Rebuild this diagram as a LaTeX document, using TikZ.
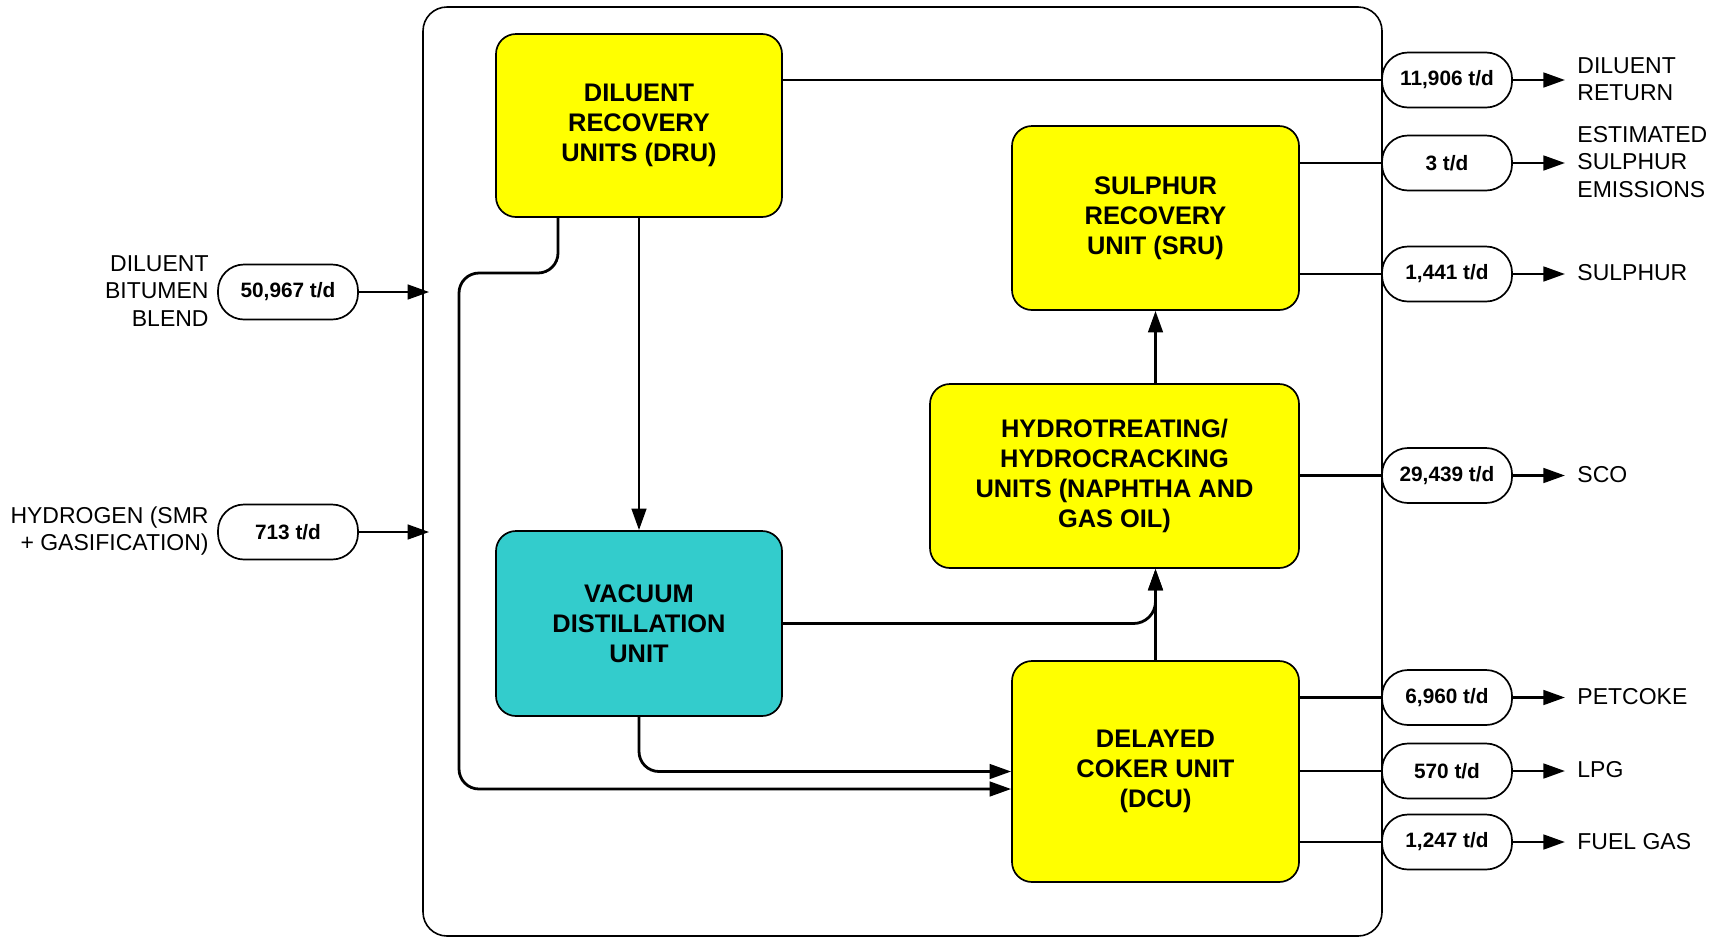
\documentclass[tikz,border=0pt]{standalone}
\usepackage{fontspec}
\setmainfont{Liberation Sans}
\usetikzlibrary{arrows.meta}
\definecolor{unityellow}{RGB}{255,255,0}
\definecolor{vacteal}{RGB}{51,204,204}
\begin{document}
\begin{tikzpicture}[x=0.5pt,y=-0.5pt,
  unit/.style={draw, line width=0.85pt, rounded corners=10pt, fill=unityellow,
    align=center, inner sep=2pt, font=\bfseries\fontsize{12.7}{15}\selectfont},
  pill/.style={draw, line width=0.85pt, rounded corners=13pt, fill=white,
    minimum width=65pt, minimum height=27.5pt, inner sep=0pt,
    font=\bfseries\fontsize{10.4}{12}\selectfont},
  lblL/.style={anchor=east, inner sep=0pt, align=right, font=\fontsize{11.5}{13.75}\selectfont},
  lblR/.style={anchor=west, inner sep=0pt, align=left, font=\fontsize{11.5}{13.75}\selectfont},
  link/.style={line width=1.4pt},
  flow/.style={line width=1.4pt, -{Triangle[length=10.8pt,width=7.3pt]}},
]
\useasboundingbox (0,0) rectangle (1722,938);

% plant boundary
\node[draw, line width=0.8pt, rounded corners=12pt, minimum width=479.5pt,
  minimum height=464.5pt, inner sep=0pt] (plant) at (902.5,471.5) {};

% process units
\node[unit, minimum width=143pt, minimum height=91.5pt] (DRU) at (639,125.5)
  {DILUENT\\RECOVERY\\UNITS (DRU)};
\node[unit, minimum width=143.5pt, minimum height=92pt] (SRU) at (1155.5,218)
  {SULPHUR\\RECOVERY\\UNIT (SRU)};
\node[unit, minimum width=184.5pt, minimum height=92pt] (HY) at (1114.5,476)
  {HYDROTREATING/\\HYDROCRACKING\\UNITS (NAPHTHA AND\\GAS OIL)};
\node[unit, fill=vacteal, minimum width=143pt, minimum height=92.5pt] (VDU) at (639,623.5)
  {VACUUM\\DISTILLATION\\UNIT};
\node[unit, minimum width=143.5pt, minimum height=110.5pt] (DCU) at (1155.5,771.5)
  {DELAYED\\COKER UNIT\\(DCU)};

% feed streams
\node[pill, minimum width=70pt] (fBlend) at (288,292) {50,967 t/d};
\node[pill, minimum width=70pt] (fHyd) at (288,532) {713 t/d};
\node[lblL] (tBlend) at (209,291) {DILUENT\\BITUMEN\\BLEND};
\node[lblL] (tHyd) at (209,531) {HYDROGEN (SMR\\+ GASIFICATION)};
\draw[flow] (fBlend.east) -- ([xshift=3.5pt]fBlend -| plant.west);
\draw[flow] (fHyd.east) -- ([xshift=3.5pt]fHyd -| plant.west);

% product streams
\node[pill] (pDil) at (1447,80) {11,906 t/d};
\node[pill] (pEm) at (1447,163) {3 t/d};
\node[pill] (pSul) at (1447,274) {1,441 t/d};
\node[pill] (pSco) at (1447,475.5) {29,439 t/d};
\node[pill] (pPet) at (1447,697.5) {6,960 t/d};
\node[pill] (pLpg) at (1447,771) {570 t/d};
\node[pill] (pFg) at (1447,842) {1,247 t/d};

\node[lblR] (tDil) at (1577,79) {DILUENT\\RETURN};
\node[lblR] (tEm) at (1577,162) {ESTIMATED\\SULPHUR\\EMISSIONS};
\node[lblR] (tSul) at (1577,273) {SULPHUR};
\node[lblR] (tSco) at (1577,475) {SCO};
\node[lblR] (tPet) at (1577,697) {PETCOKE};
\node[lblR] (tLpg) at (1577,770) {LPG};
\node[lblR] (tFg) at (1577,842) {FUEL GAS};

\foreach \p/\t in {pDil/tDil, pEm/tEm, pSul/tSul, pSco/tSco, pPet/tPet, pLpg/tLpg, pFg/tFg}
  \draw[flow] (\p.east) -- ([xshift=-6pt]\t.west |- \p);

% unit outlets to product streams
\draw[link] (pDil -| DRU.east) -- (pDil.west);
\draw[link] (pEm -| SRU.east) -- (pEm.west);
\draw[link] (pSul -| SRU.east) -- (pSul.west);
\draw[link] (pSco -| HY.east) -- (pSco.west);
\draw[link] (pPet -| DCU.east) -- (pPet.west);
\draw[link] (pLpg -| DCU.east) -- (pLpg.west);
\draw[link] (pFg -| DCU.east) -- (pFg.west);

% internal flows
\coordinate (bypass) at (459,273);
\draw[flow] (DRU.south) -- (VDU.north);
\draw[flow, rounded corners=10pt] ([xshift=-40.5pt]DRU.south) |- (bypass) |- ([yshift=-8.75pt]DCU.west);
\draw[flow, rounded corners=10pt] (VDU.south) |- (DCU.west);
\draw[flow, rounded corners=11pt] (VDU.east) -| (DCU.north |- HY.south);
\draw[flow] (DCU.north) -- (DCU.north |- HY.south);
\draw[flow] (SRU.south |- HY.north) -- (SRU.south);
\end{tikzpicture}
\end{document}
